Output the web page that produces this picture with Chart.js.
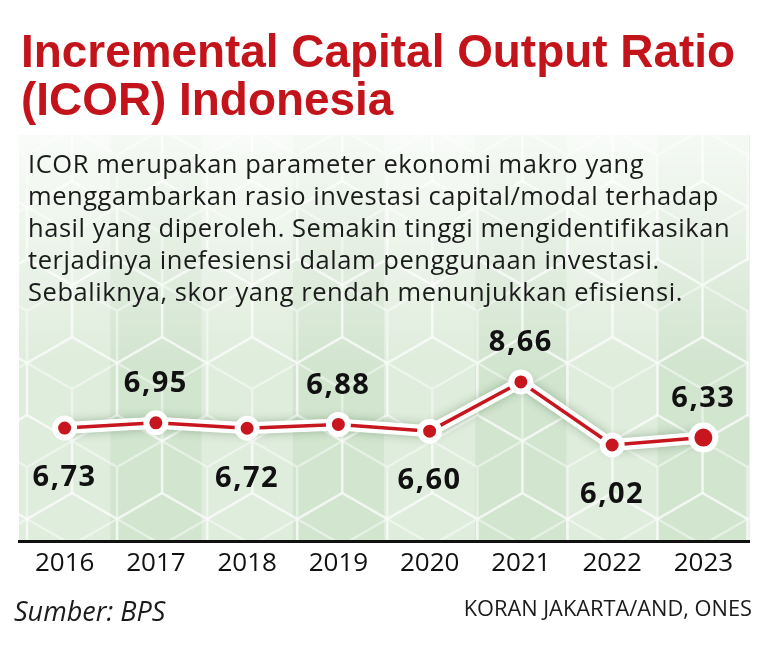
<!DOCTYPE html>
<html>
<head>
<meta charset="utf-8">
<script src="https://cdn.jsdelivr.net/npm/chart.js@4.4.1/dist/chart.umd.min.js"></script>
<style>
  body { margin: 0; background: #fff; }
  #wrap { position: relative; width: 774px; height: 670px; overflow: hidden; }
  #icorChart { position: absolute; left: 0; top: 0; }
  .title {
    position: absolute; left: 21px; top: 27px; white-space: nowrap;
    font-family: "Liberation Sans", Arial, sans-serif;
    font-weight: bold; font-size: 46px; line-height: 48px; color: #c3141b;
    transform-origin: left top;
  }
  .desc {
    position: absolute; left: 28px; top: 147px; white-space: nowrap;
    font-family: "Open Sans", "Noto Sans", sans-serif;
    font-size: 25.5px; line-height: 32px; letter-spacing: 0.55px; color: #1b1b1b;
  }
  .src {
    position: absolute; left: 14px; top: 596px;
    font-family: "Open Sans", sans-serif;
    font-style: italic; font-size: 27px; line-height: 30px; color: #1b1b1b;
  }
  .credit {
    position: absolute; right: 22px; top: 593px;
    font-family: "Open Sans", sans-serif;
    font-size: 21.8px; line-height: 30px; color: #1b1b1b;
  }
</style>
</head>
<body>
<div id="wrap">
  <canvas id="icorChart" width="774" height="670"></canvas>
  <div class="title" id="title">Incremental Capital Output Ratio<br>(ICOR) Indonesia</div>
  <div class="desc">ICOR merupakan parameter ekonomi makro yang<br>menggambarkan rasio investasi capital/modal terhadap<br>hasil yang diperoleh. Semakin tinggi mengidentifikasikan<br>terjadinya inefesiensi dalam penggunaan investasi.<br>Sebaliknya, skor yang rendah menunjukkan efisiensi.</div>
  <div class="src">Sumber: BPS</div>
  <div class="credit">KORAN JAKARTA/AND, ONES</div>
</div>
<script>
  // ICOR per year (BPS)
  const years = ['2016', '2017', '2018', '2019', '2020', '2021', '2022', '2023'];
  const icorValues = [6.73, 6.95, 6.72, 6.88, 6.60, 8.66, 6.02, 6.33];

  const red = '#c8161e';

  // squeeze the title into a condensed look
  (function () {
    const m = document.createElement('canvas').getContext('2d');
    m.font = 'bold 46px "Liberation Sans", Arial, sans-serif';
    const w = m.measureText('Incremental Capital Output Ratio').width;
    document.getElementById('title').style.transform = 'scaleX(' + (714 / w) + ')';
  })();

  // green panel with alternating columns and cube pattern
  const panelPlugin = {
    id: 'panel',
    beforeDraw(chart) {
      const { ctx, chartArea } = chart;
      const { left, right, top, bottom } = chartArea;
      const bw = (right - left) / years.length;
      ctx.save();
      years.forEach((y, i) => {
        ctx.fillStyle = i % 2 ? '#d2e5cf' : '#dfeddc';
        ctx.fillRect(left + i * bw, top, bw + 0.5, bottom - top);
      });

      ctx.beginPath();
      ctx.rect(left, top, right - left, bottom - top);
      ctx.clip();
      ctx.strokeStyle = 'rgba(255,255,255,0.45)';
      ctx.lineWidth = 2.5;
      const r = 52;
      const w = Math.sqrt(3) * r;
      for (let row = -1; row * 1.5 * r < bottom - top + r; row++) {
        const cy = top + 20 + row * 1.5 * r;
        for (let col = -1; col * w < right - left + w; col++) {
          const cx = left + 8 + col * w + (row % 2 ? w / 2 : 0);
          const pts = [];
          for (let k = 0; k < 6; k++) {
            const a = (-90 + 60 * k) * Math.PI / 180;
            pts.push([cx + r * Math.cos(a), cy + r * Math.sin(a)]);
          }
          ctx.beginPath();
          ctx.moveTo(pts[0][0], pts[0][1]);
          for (let k = 1; k < 6; k++) ctx.lineTo(pts[k][0], pts[k][1]);
          ctx.closePath();
          [1, 3, 5].forEach(k => { ctx.moveTo(cx, cy); ctx.lineTo(pts[k][0], pts[k][1]); });
          ctx.stroke();
        }
      }

      // light haze behind the description text
      const g = ctx.createLinearGradient(0, top, 0, top + 230);
      g.addColorStop(0, 'rgba(255,255,255,0.8)');
      g.addColorStop(1, 'rgba(255,255,255,0)');
      ctx.fillStyle = g;
      ctx.fillRect(left, top, right - left, 230);
      ctx.restore();
    },
    beforeDatasetDraw(chart, args) {
      if (args.index === 1) {
        chart.ctx.save();
        chart.ctx.shadowColor = 'rgba(40,90,40,0.35)';
        chart.ctx.shadowBlur = 10;
      }
    },
    afterDatasetDraw(chart, args) {
      if (args.index === 1) chart.ctx.restore();
    }
  };

  // value labels, alternating below / above the points
  const valueLabelPlugin = {
    id: 'valueLabels',
    afterDatasetsDraw(chart) {
      const { ctx } = chart;
      const meta = chart.getDatasetMeta(0);
      ctx.save();
      ctx.font = 'bold 29px "Open Sans", sans-serif';
      ctx.letterSpacing = '1.5px';
      ctx.fillStyle = '#111';
      ctx.textAlign = 'center';
      ctx.textBaseline = 'middle';
      meta.data.forEach((pt, i) => {
        const txt = icorValues[i].toFixed(2).replace('.', ',');
        const dy = i % 2 === 0 ? 50 : -39;
        ctx.fillText(txt, pt.x, pt.y + dy);
      });
      ctx.restore();
    }
  };

  const ctx = document.getElementById('icorChart').getContext('2d');
  new Chart(ctx, {
    type: 'line',
    data: {
      labels: years,
      datasets: [{
        data: icorValues,
        borderColor: red,
        borderWidth: 3.5,
        pointBackgroundColor: red,
        pointBorderColor: '#fff',
        pointBorderWidth: 6,
        pointRadius: icorValues.map((v, i) => i === icorValues.length - 1 ? 12 : 9.5),
        tension: 0,
        order: 0
      }, {
        data: icorValues,
        borderColor: '#fff',
        borderWidth: 12,
        pointRadius: 0,
        tension: 0,
        order: 1
      }]
    },
    options: {
      responsive: false,
      animation: false,
      layout: { padding: { left: 19, right: 25, top: 135, bottom: 0 } },
      plugins: {
        legend: { display: false },
        tooltip: { enabled: false }
      },
      scales: {
        x: {
          offset: true,
          grid: { display: false, drawTicks: false },
          border: { display: true, color: '#111', width: 3 },
          ticks: {
            color: '#111',
            padding: 7,
            font: { family: '"Open Sans", sans-serif', size: 26 }
          },
          afterFit(scale) { scale.height = 129; }
        },
        y: {
          display: false,
          min: 2,
          max: 19
        }
      }
    },
    plugins: [panelPlugin, valueLabelPlugin]
  });
</script>
</body>
</html>
